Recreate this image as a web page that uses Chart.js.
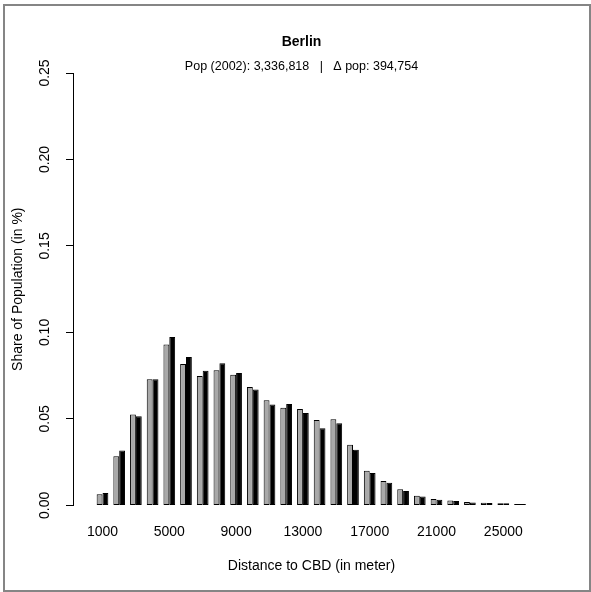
<!DOCTYPE html>
<html>
<head>
<meta charset="utf-8">
<script src="https://cdn.jsdelivr.net/npm/chart.js@4.4.1/dist/chart.umd.min.js"></script>
<style>
  html, body { margin: 0; padding: 0; background: #fff; }
  #wrap { position: relative; width: 591px; height: 592px; }
  #frame { position: absolute; left: 3px; top: 4px; width: 588px; height: 588px; box-sizing: border-box; border: 2px solid #858585; pointer-events: none; }
  canvas { display: block; }
</style>
</head>
<body>
<div id="wrap">
  <canvas id="c" width="591" height="592"></canvas>
  <div id="frame"></div>
</div>
<script>
// Distance bins (meters)
const distances = [1000,2000,3000,4000,5000,6000,7000,8000,9000,10000,11000,12000,13000,
  14000,15000,16000,17000,18000,19000,20000,21000,22000,23000,24000,25000,26000];
// Grey series (first bar of each pair)
const shareGrey = [0.0064,0.0284,0.0525,0.0729,0.0930,0.0818,0.0748,0.0781,0.0755,0.0685,
  0.0608,0.0565,0.0557,0.0494,0.0498,0.0351,0.0201,0.0141,0.0094,0.0056,0.0037,0.0029,
  0.0019,0.0015,0.0013,0.0008];
// Black series (second bar of each pair)
const shareBlack = [0.0071,0.0318,0.0515,0.0729,0.0974,0.0858,0.0779,0.0822,0.0766,0.0670,
  0.0583,0.0586,0.0534,0.0446,0.0475,0.0322,0.0187,0.0131,0.0083,0.0052,0.0033,0.0025,
  0.0017,0.0014,0.0012,0.0008];
// Labelled ticks
const xTickLabels = [1000,5000,9000,13000,17000,21000,25000];
const yTicks = [0,0.05,0.10,0.15,0.20,0.25];

const titleText = 'Berlin';
const subtitleText = 'Pop (2002): 3,336,818   |   \u0394 pop: 394,754';
const FONT = 'Liberation Sans, Arial, Helvetica, sans-serif';

// Shift the title block's horizontal extent (centres the headings like the original)
const titleShift = {
  id: 'titleShift',
  afterLayout(chart) {
    for (const b of chart.boxes) {
      if (b.position === 'top' && b.options && b.options.text !== undefined) {
        b.left = 53; b.right = chart.chartArea.right; b.width = b.right - b.left;
      }
    }
  }
};

new Chart(document.getElementById('c'), {
  type: 'bar',
  data: {
    datasets: [
      { data: distances.map((d,i)=>({x:d, y:shareGrey[i]})), backgroundColor: '#a9a9a9', borderColor: '#000', borderWidth: 1, borderSkipped: false },
      { data: distances.map((d,i)=>({x:d, y:shareBlack[i]})), backgroundColor: '#000', borderColor: '#000', borderWidth: 1, borderSkipped: false }
    ]
  },
  plugins: [titleShift],
  options: {
    responsive: false,
    animation: false,
    devicePixelRatio: 1,
    categoryPercentage: 0.7,
    barPercentage: 1.0,
    layout: { padding: { left: 0, right: 41, top: 0, bottom: 17 } },
    plugins: {
      legend: { display: false },
      tooltip: { enabled: false },
      title: { display: true, text: titleText, fullSize: false, color: '#000',
        font: { family: FONT, size: 14, weight: 'bold', lineHeight: 1 }, padding: { top: 35, bottom: 0 } },
      subtitle: { display: true, text: subtitleText, fullSize: false, color: '#000',
        font: { family: FONT, size: 12.5, lineHeight: 1 }, padding: { top: 11.5, bottom: 0 } }
    },
    scales: {
      x: {
        type: 'linear',
        offset: false,
        min: -766,
        max: 27796,
        grid: { display: false, drawTicks: false, offset: false },
        border: { display: false },
        afterBuildTicks: (s) => { s.ticks = xTickLabels.map(v => ({ value: v })); },
        ticks: { color: '#000', font: { family: FONT, size: 14 }, padding: 18, maxRotation: 0, minRotation: 0,
          autoSkip: false, callback: (v) => String(v) },
        title: { display: true, text: 'Distance to CBD (in meter)', color: '#000',
          font: { family: FONT, size: 14 }, padding: { top: 0, bottom: 0 } }
      },
      y: {
        min: 0,
        max: 0.25,
        afterBuildTicks: (s) => { s.ticks = yTicks.map(v => ({ value: v })); },
        afterFit: (s) => { s.width = 73; },
        grid: { drawOnChartArea: false, drawTicks: true, tickLength: 7, color: '#000', lineWidth: 1 },
        border: { display: true, color: '#000', width: 1 },
        ticks: { color: '#000', font: { family: FONT, size: 14 }, padding: 7, minRotation: 90, maxRotation: 90,
          crossAlign: 'center', callback: (v) => Number(v).toFixed(2) },
        title: { display: true, text: 'Share of Population (in %)', color: '#000',
          font: { family: FONT, size: 14 }, padding: { top: 10, bottom: 0 } }
      }
    }
  }
});
</script>
</body>
</html>
